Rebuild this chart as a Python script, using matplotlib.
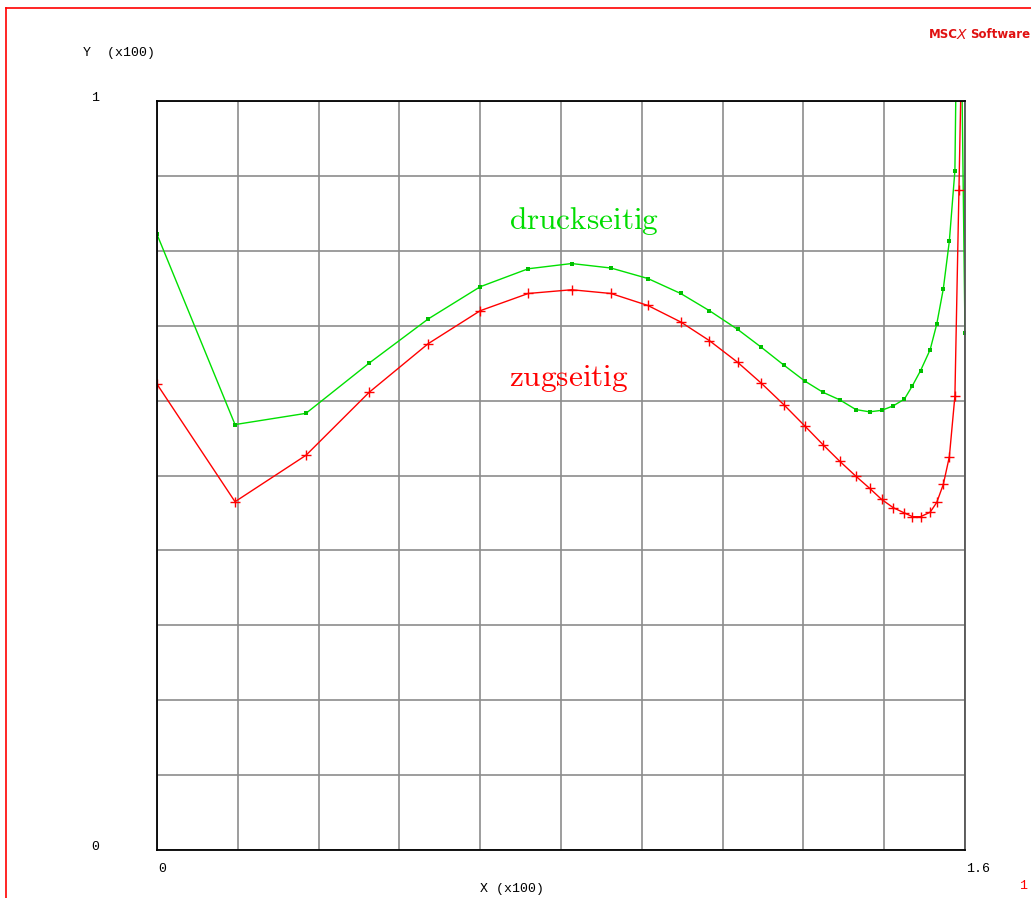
import matplotlib
matplotlib.use("Agg")
import matplotlib.pyplot as plt
from matplotlib.lines import Line2D

plt.rcParams['mathtext.fontset'] = 'cm'

# x stations (x100) shared by both curves
x_pos = [0.0, 0.1545, 0.295, 0.420, 0.537, 0.640, 0.735, 0.821, 0.899, 0.972,
         1.037, 1.094, 1.150, 1.197, 1.242, 1.283, 1.319, 1.352, 1.384, 1.411,
         1.435, 1.458, 1.480, 1.496, 1.512, 1.531, 1.544, 1.557, 1.569, 1.580,
         1.588, 1.6]

# druckseitig (green)
y_druck = [0.822, 0.568, 0.583, 0.650, 0.709, 0.752, 0.776, 0.783, 0.777, 0.763,
           0.743, 0.720, 0.695, 0.671, 0.647, 0.626, 0.611, 0.601, 0.588, 0.585,
           0.587, 0.593, 0.602, 0.620, 0.640, 0.668, 0.702, 0.749, 0.813, 0.907,
           1.35, 0.690]

# zugseitig (red)
y_zug = [0.622, 0.465, 0.527, 0.611, 0.676, 0.720, 0.743, 0.748, 0.743, 0.727,
         0.705, 0.680, 0.651, 0.623, 0.594, 0.566, 0.541, 0.519, 0.499, 0.483,
         0.468, 0.457, 0.450, 0.445, 0.445, 0.451, 0.464, 0.488, 0.525, 0.606,
         0.881, 1.30]

W, H = 1031, 898
fig = plt.figure(figsize=(W / 100, H / 100), dpi=100)
fig.patch.set_facecolor('white')

def fx(px):
    return px / W

def fy(py):
    return 1 - py / H

ax = fig.add_axes([fx(157), fy(850), fx(965) - fx(157), fy(101) - fy(850)])
ax.set_xlim(0, 1.6)
ax.set_ylim(0, 1)

# grid
ax.set_xticks([i * 0.16 for i in range(11)])
ax.set_yticks([i * 0.1 for i in range(11)])
ax.grid(True, color='#8c8c8c', linewidth=1.2)
ax.tick_params(length=0, labelbottom=False, labelleft=False)
for s in ['left', 'bottom', 'top']:
    ax.spines[s].set_color('black')
    ax.spines[s].set_linewidth(1.3)
ax.spines['right'].set_color('#555555')
ax.spines['right'].set_linewidth(1.3)

ax.plot(x_pos, y_druck, color='#00e000', linewidth=1.0, marker='s',
        markersize=3, markerfacecolor='#00c000', markeredgewidth=0, clip_on=True)
ax.plot(x_pos, y_zug, color='#ff0000', linewidth=1.0, marker='+',
        markersize=7, markeredgewidth=1.0, clip_on=True)

ax.text(0.846, 0.84, r'$\mathrm{druckseitig}$', color='#00dd00', fontsize=22.5,
        ha='center', va='center')
ax.text(0.815, 0.63, r'$\mathrm{zugseitig}$', color='#ff0000', fontsize=22.5,
        ha='center', va='center')

mono = 'Liberation Mono'
fig.text(fx(83), fy(53), 'Y  (x100)', fontsize=9.5, family=mono, va='center')
fig.text(fx(95), fy(98), '1', fontsize=9.5, family=mono, va='center', ha='center')
fig.text(fx(95), fy(847), '0', fontsize=9.5, family=mono, va='center', ha='center')
fig.text(fx(162), fy(869), '0', fontsize=9.5, family=mono, va='center', ha='center')
fig.text(fx(978), fy(869), '1.6', fontsize=9.5, family=mono, va='center', ha='center')
fig.text(fx(512), fy(889), 'X (x100)', fontsize=9.5, family=mono, va='center', ha='center')
fig.text(fx(1023), fy(886), '1', fontsize=9.5, family=mono, va='center', ha='center',
         color='red')

# MSC logo
fig.text(fx(929), fy(35), 'MSC', fontsize=8.5, weight='bold', color='#e01010',
         family='Liberation Sans Narrow', va='center', ha='left')
fig.text(fx(961), fy(35), 'X', fontsize=10, style='italic', color='#e01010',
         family='DejaVu Sans', va='center', ha='center')
fig.text(fx(970), fy(35), 'Software', fontsize=8.5, weight='bold', color='#e01010',
         family='Liberation Sans Narrow', va='center', ha='left')

# red frame
fig.add_artist(Line2D([fx(6), fx(1031)], [fy(8), fy(8)], color='red', linewidth=1.2))
fig.add_artist(Line2D([fx(6), fx(6)], [fy(8), fy(898)], color='red', linewidth=1.2))

fig.savefig('out.png', dpi=100)
